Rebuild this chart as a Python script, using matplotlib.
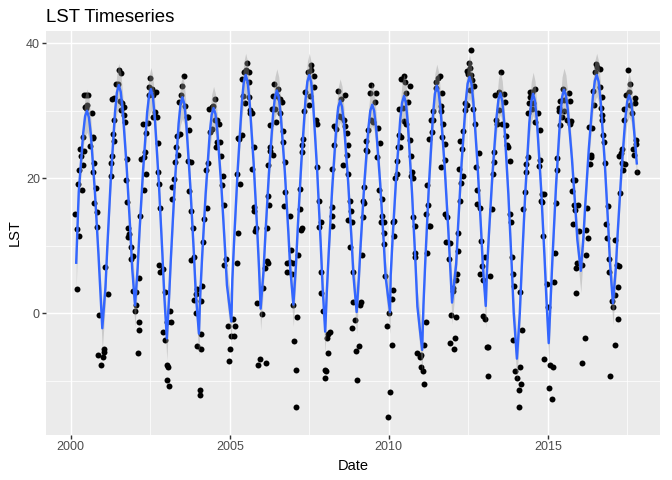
import numpy as np
import matplotlib
matplotlib.use("Agg")
import matplotlib.pyplot as plt

# observations as (decimal year, LST), grouped by season
obs_2000 = [(2000.18,12.5),(2000.14,14.7),(2000.35,18.2),(2000.24,19.1),(2000.27,21.2),(2000.38,21.9),(2000.31,23.3),
            (2000.41,24.0),(2000.29,24.3),(2000.37,26.1),(2000.47,30.4),(2000.45,30.6),(2000.50,30.9),(2000.42,32.4),
            (2000.48,32.4),(2000.53,32.4),(2000.66,29.6),(2000.60,24.8),(2000.71,25.9),(2000.69,26.1),(2000.74,22.2),
            (2000.71,20.9),(2000.79,18.5),(2000.74,16.4),(2000.83,15.0),(2000.81,12.8),(2000.25,11.4),(2000.19,3.6),
            (2000.90,-0.3),(2001.09,6.8),(2001.18,2.8),(2000.87,-6.1),(2001.03,-5.3),(2001.03,-5.7),(2001.00,-6.5),
            (2000.96,-7.7)]
obs_2001 = [(2001.31,31.7),(2001.36,31.9),(2001.37,28.7),(2001.34,26.5),(2001.36,25.5),(2001.28,23.3),(2001.25,22.3),
            (2001.25,20.4),(2001.52,36.0),(2001.59,35.6),(2001.49,34.0),(2001.43,33.9),(2001.56,31.5),(2001.62,31.2),
            (2001.67,30.5),(2001.58,30.1),(2001.66,29.3),(2001.71,28.3),(2001.76,22.8),(2001.73,19.7),(2001.78,16.5),
            (2001.81,12.7),(2001.84,11.7),(2001.80,11.3),(2001.88,9.8),(2001.95,8.5),(2001.89,8.0),(2002.13,5.3),
            (2001.97,3.3),(2002.04,3.1),(2002.06,1.3),(2002.02,0.3),(2002.16,-1.3),(2002.16,-2.5),(2002.10,-5.8)]
obs_2002 = [(2002.19,14.4),(2002.22,22.8),(2002.29,23.2),(2002.34,23.9),(2002.36,20.7),(2002.29,18.2),(2002.38,26.7),
            (2002.27,28.1),(2002.42,28.2),(2002.49,34.8),(2002.46,33.5),(2002.56,33.2),(2002.45,32.4),(2002.67,32.7),
            (2002.60,32.3),(2002.64,29.8),(2002.60,29.0),(2002.71,29.0),(2002.73,25.2),(2002.73,21.0),(2002.76,19.1),
            (2002.79,15.6),(2002.77,7.1),(2002.89,6.5),(2002.82,6.2),(2002.96,3.1),(2003.13,0.3),(2003.01,-1.3),
            (2003.14,-1.3),(2002.90,-2.8),(2002.95,-3.9),(2003.01,-7.6),(2003.07,-7.9),(2003.04,-9.9),(2003.10,-10.8)]
obs_2003 = [(2003.19,16.9),(2003.19,18.7),(2003.26,19.9),(2003.29,22.4),(2003.38,23.4),(2003.32,24.7),(2003.35,26.2),
            (2003.42,26.5),(2003.41,31.3),(2003.46,32.3),(2003.49,33.6),(2003.57,35.1),(2003.60,30.7),(2003.64,29.0),
            (2003.68,29.0),(2003.71,27.1),(2003.69,22.5),(2003.77,22.4),(2003.72,18.1),(2003.79,15.1),(2003.85,12.7),
            (2004.17,10.5),(2003.86,8.3),(2003.78,7.9),(2004.14,4.0),(2003.98,3.6),(2003.94,2.8),(2003.89,2.0),
            (2004.11,1.9),(2003.95,0.1),(2004.11,-3.1),(2003.98,-4.9),(2004.08,-5.3),(2004.05,-11.4),(2004.05,-12.1)]
obs_2004 = [(2004.18,14.0),(2004.27,15.6),(2004.26,21.2),(2004.31,22.2),(2004.34,30.2),(2004.39,26.9),(2004.43,27.3),
            (2004.44,30.5),(2004.48,30.7),(2004.55,31.7),(2004.61,28.7),(2004.65,28.1),(2004.59,25.4),(2004.68,25.4),
            (2004.57,24.7),(2004.71,23.3),(2004.78,20.3),(2004.74,19.0),(2004.81,16.0),(2004.52,28.6),(2005.26,11.9),
            (2005.22,7.4),(2004.87,8.1),(2004.82,7.1),(2005.09,-0.9),(2004.93,-1.9),(2005.16,-1.9),(2005.05,-3.3),
            (2005.12,-3.4),(2005.02,-5.2),(2004.99,-7.0)]
obs_2005 = [(2005.22,20.7),(2005.32,19.1),(2005.26,25.9),(2005.30,25.8),(2005.37,26.4),(2005.39,34.7),(2005.43,32.2),
            (2005.48,31.2),(2005.53,37.0),(2005.50,36.1),(2005.45,35.8),(2005.59,35.7),(2005.64,29.6),(2005.61,34.2),
            (2005.60,32.1),(2005.65,30.1),(2005.69,29.6),(2005.75,24.6),(2005.70,21.3),(2005.76,15.8),(2005.77,15.1),
            (2005.83,12.7),(2005.78,12.2),(2006.17,7.7),(2006.20,7.4),(2006.11,6.7),(2006.03,3.8),(2005.85,1.5),
            (2006.00,-0.1),(2005.95,-6.7),(2005.89,-7.7),(2006.14,-7.3)]
obs_2006 = [(2006.20,17.4),(2006.23,16.1),(2006.17,12.7),(2006.21,22.0),(2006.37,23.4),(2006.25,24.7),(2006.28,24.1),
            (2006.27,27.9),(2006.34,30.2),(2006.43,30.2),(2006.45,28.3),(2006.39,34.0),(2006.51,33.2),(2006.37,32.2),
            (2006.49,32.2),(2006.59,31.7),(2006.64,31.3),(2006.58,29.6),(2006.67,27.0),(2006.68,25.3),(2006.75,22.4),
            (2006.73,17.9),(2006.69,15.9),(2006.89,14.4),(2007.25,12.4),(2006.93,9.4),(2007.14,8.7),(2006.80,7.4),
            (2006.88,7.6),(2006.99,7.4),(2006.80,6.1),(2006.95,5.9),(2006.99,1.3),(2007.11,-0.6),(2007.02,-4.1),
            (2007.08,-8.4),(2007.08,-13.8)]
obs_2007 = [(2007.21,18.4),(2007.21,15.4),(2007.26,12.6),(2007.30,25.8),(2007.27,24.9),(2007.27,23.9),(2007.33,29.9),
            (2007.37,32.7),(2007.45,35.8),(2007.56,36.8),(2007.54,36.1),(2007.65,35.1),(2007.65,33.5),(2007.53,32.2),
            (2007.49,30.9),(2007.70,28.7),(2007.73,28.1),(2007.75,21.6),(2007.80,16.6),(2007.86,13.6),(2007.82,12.8),
            (2008.22,13.0),(2007.87,6.1),(2007.87,3.0),(2007.93,0.4),(2008.14,-2.8),(2008.10,-3.1),(2008.06,-3.6),
            (2008.09,-5.9),(2007.99,-8.4),(2008.02,-8.6),(2007.99,-9.5)]
obs_2008 = [(2008.21,21.4),(2008.27,24.9),(2008.35,27.3),(2008.28,27.7),(2008.56,21.9),(2008.41,32.9),(2008.49,31.7),
            (2008.63,32.4),(2008.45,29.2),(2008.51,29.0),(2008.59,28.7),(2008.61,27.8),(2008.69,26.7),(2008.73,24.9),
            (2008.68,23.4),(2008.73,20.7),(2008.77,16.7),(2008.82,15.1),(2008.72,13.8),(2008.85,13.5),(2008.22,14.4),
            (2008.21,15.7),(2008.77,9.9),(2009.17,8.6),(2008.87,6.2),(2009.14,1.7),(2009.09,1.3),(2008.89,1.7),
            (2008.94,-1.0),(2008.85,-2.1),(2009.07,-4.9),(2008.97,-5.6),(2009.01,-9.9)]
obs_2009 = [(2009.22,18.7),(2009.23,16.3),(2009.18,16.7),(2009.19,14.3),(2009.27,25.5),(2009.34,27.2),(2009.29,24.2),
            (2009.33,24.0),(2009.45,33.8),(2009.42,32.6),(2009.60,32.6),(2009.57,31.3),(2009.43,28.6),(2009.50,28.4),
            (2009.67,27.4),(2009.71,25.2),(2009.62,23.2),(2009.68,18.2),(2009.79,16.9),(2009.79,14.4),(2009.84,13.5),
            (2009.75,13.5),(2009.85,11.9),(2009.84,10.2),(2010.18,11.4),(2010.15,13.7),(2009.88,5.6),(2010.13,3.4),
            (2010.10,2.1),(2010.00,0.0),(2009.93,-1.9),(2010.10,-4.7),(2010.04,-11.6),(2009.98,-15.4)]
obs_2010 = [(2010.14,13.6),(2010.19,20.1),(2010.26,20.7),(2010.26,22.5),(2010.29,24.6),(2010.34,24.7),(2010.32,26.4),
            (2010.39,26.1),(2010.32,30.2),(2010.44,30.4),(2010.47,28.5),(2010.54,28.0),(2010.38,34.7),(2010.47,35.2),
            (2010.52,34.2),(2010.66,33.7),(2010.54,32.6),(2010.61,31.3),(2010.66,25.7),(2010.70,23.3),(2010.72,21.0),
            (2010.70,20.3),(2010.77,20.1),(2010.76,14.2),(2010.84,12.9),(2010.83,8.9),(2010.81,8.4),(2011.20,8.9),
            (2011.27,13.0),(2011.18,-1.2),(2011.12,-4.7),(2010.90,-5.8),(2011.02,-6.2),(2010.98,-6.5),(2011.01,-8.0),
            (2011.08,-8.6),(2011.11,-10.4)]
obs_2011 = [(2011.21,19.0),(2011.24,16.1),(2011.17,14.7),(2011.29,13.0),(2011.27,25.8),(2011.36,26.8),(2011.34,28.6),
            (2011.40,28.6),(2011.40,30.0),(2011.47,33.4),(2011.49,34.2),(2011.54,34.8),(2011.63,30.7),(2011.64,30.0),
            (2011.66,26.1),(2011.72,28.0),(2011.65,21.7),(2011.76,25.0),(2011.76,14.7),(2011.83,14.2),(2011.62,35.1),
            (2011.66,32.6),(2011.77,22.7),(2012.17,11.9),(2011.81,10.5),(2011.93,10.4),(2012.17,9.2),(2011.89,8.0),
            (2012.14,5.9),(2012.11,5.0),(2012.03,3.7),(2012.02,3.3),(2011.95,-0.3),(2012.11,-0.6),(2012.08,-3.6),
            (2011.92,-4.4),(2012.04,-5.2)]
obs_2012 = [(2012.23,16.6),(2012.27,19.3),(2012.34,20.3),(2012.20,21.3),(2012.30,24.3),(2012.23,25.5),(2012.34,27.0),
            (2012.39,30.1),(2012.41,31.2),(2012.46,30.8),(2012.58,39.0),(2012.52,37.0),(2012.54,36.3),(2012.45,35.9),
            (2012.50,35.4),(2012.59,35.3),(2012.62,34.6),(2012.67,33.6),(2012.54,33.0),(2012.65,30.2),(2012.70,28.1),
            (2012.84,23.7),(2012.73,21.6),(2012.79,18.2),(2012.76,16.2),(2012.86,15.6),(2012.89,10.7),(2013.02,8.3),
            (2012.92,7.0),(2012.87,5.9),(2013.18,5.6),(2012.96,4.9),(2012.96,-0.4),(2013.03,-0.9),(2013.08,-5.0),
            (2013.11,-5.0),(2013.11,-9.3)]
obs_2013 = [(2013.25,15.4),(2013.28,20.6),(2013.30,22.4),(2013.32,23.9),(2013.38,28.6),(2013.41,28.0),(2013.47,30.1),
            (2013.35,32.4),(2013.48,32.8),(2013.63,32.5),(2013.67,31.3),(2013.57,28.0),(2013.69,27.9),(2013.68,26.3),
            (2013.71,24.9),(2013.75,24.7),(2013.80,22.5),(2013.52,35.7),(2013.81,14.7),(2013.85,13.5),(2013.87,8.3),
            (2013.90,5.9),(2013.95,4.1),(2014.14,3.1),(2014.19,-2.5),(2013.90,-4.0),(2014.12,-8.0),(2013.96,-8.6),
            (2014.03,-9.5),(2014.15,-10.4),(2014.09,-11.3),(2014.09,-13.9)]
obs_2014 = [(2014.23,15.4),(2014.27,17.9),(2014.31,20.9),(2014.33,22.1),(2014.38,23.2),(2014.37,29.6),(2014.43,32.0),
            (2014.40,31.1),(2014.45,32.8),(2014.51,32.8),(2014.59,33.2),(2014.54,31.1),(2014.49,30.3),(2014.70,29.6),
            (2014.61,28.3),(2014.76,27.1),(2014.76,22.7),(2014.72,21.8),(2014.82,17.7),(2014.87,17.7),(2014.78,16.7),
            (2014.82,16.5),(2014.84,11.4),(2015.22,9.0),(2015.19,4.7),(2014.98,4.4),(2015.01,1.0),(2014.87,-6.8),
            (2015.06,-7.6),(2015.16,-8.0),(2015.03,-11.1),(2015.13,-12.6)]
obs_2015 = [(2015.25,16.4),(2015.28,21.2),(2015.30,23.0),(2015.38,27.9),(2015.45,29.0),(2015.34,30.4),(2015.34,30.0),
            (2015.50,30.0),(2015.38,31.4),(2015.51,31.6),(2015.69,31.5),(2015.66,32.6),(2015.48,33.2),(2015.61,28.7),
            (2015.74,28.5),(2015.71,28.1),(2015.79,19.8),(2015.87,19.7),(2015.75,18.1),(2015.81,16.0),(2015.94,16.0),
            (2015.85,15.3),(2015.78,13.3),(2015.97,12.2),(2016.19,12.3),(2016.27,11.1),(2016.21,8.7),(2015.93,7.4),
            (2016.09,7.1),(2015.90,6.7),(2015.88,3.0),(2016.16,-3.7),(2016.07,-7.3),(2016.22,15.6)]
obs_2016 = [(2016.32,22.1),(2016.35,23.2),(2016.35,23.5),(2016.29,27.6),(2016.40,27.5),(2016.44,30.9),(2016.42,32.9),
            (2016.53,36.9),(2016.55,36.4),(2016.64,36.2),(2016.50,35.7),(2016.65,33.5),(2016.71,32.1),(2016.67,30.4),
            (2016.71,29.4),(2016.71,28.7),(2016.73,26.4),(2016.76,25.3),(2016.79,22.3),(2016.90,15.9),(2016.84,13.3),
            (2017.13,10.8),(2016.86,11.1),(2016.92,8.1),(2017.18,7.1),(2017.24,7.0),(2016.92,6.2),(2017.21,3.9),
            (2017.11,2.7),(2017.01,1.8),(2017.05,0.9),(2017.20,-0.9),(2017.11,-4.7),(2016.95,-9.3)]
obs_2017 = [(2017.27,17.8),(2017.37,21.2),(2017.32,22.2),(2017.43,22.1),(2017.25,23.3),(2017.29,23.7),(2017.33,24.4),
            (2017.39,28.6),(2017.41,30.2),(2017.52,36.1),(2017.58,33.9),(2017.45,32.4),(2017.55,32.8),(2017.74,31.9),
            (2017.73,31.1),(2017.58,30.9),(2017.64,29.6),(2017.78,25.7),(2017.78,25.0),(2017.67,24.4),(2017.70,23.4),
            (2017.80,21.0)]

# fitted curve
fit_dates = [2000.17,2000.25,2000.39,2000.45,2000.51,
             2000.57,2000.63,2000.76,2000.87,2000.93,2000.99,2001.09,2001.15,2001.26,2001.39,2001.45,2001.51,
             2001.57,2001.63,2001.76,2001.87,2001.93,2002.02,2002.10,2002.16,2002.27,2002.40,2002.46,2002.52,
             2002.58,2002.64,2002.77,2002.88,2002.94,2003.02,2003.09,2003.15,2003.26,2003.39,2003.45,2003.51,
             2003.57,2003.63,2003.76,2003.87,2003.93,2004.03,2004.07,2004.13,2004.24,2004.37,2004.43,2004.49,
             2004.55,2004.61,2004.74,2004.85,2004.91,2005.05,2005.08,2005.14,2005.25,2005.38,2005.44,2005.50,
             2005.56,2005.62,2005.75,2005.86,2005.92,2005.97,2006.06,2006.12,2006.23,2006.36,2006.42,2006.48,
             2006.54,2006.60,2006.73,2006.84,2006.90,2007.00,2007.08,2007.14,2007.25,2007.38,2007.44,2007.50,
             2007.56,2007.62,2007.75,2007.86,2007.92,2008.00,2008.05,2008.11,2008.22,2008.35,2008.41,2008.47,
             2008.53,2008.59,2008.72,2008.83,2008.89,2008.99,2009.06,2009.12,2009.23,2009.36,2009.42,2009.48,
             2009.54,2009.60,2009.73,2009.84,2009.90,2010.04,2010.06,2010.12,2010.23,2010.36,2010.42,2010.48,
             2010.54,2010.60,2010.73,2010.84,2010.90,2011.05,2011.09,2011.15,2011.26,2011.39,2011.45,2011.51,
             2011.57,2011.63,2011.76,2011.87,2011.93,2011.99,2012.12,2012.18,2012.29,2012.42,2012.48,2012.54,
             2012.60,2012.66,2012.79,2012.90,2012.96,2013.05,2013.09,2013.15,2013.26,2013.39,2013.45,2013.51,
             2013.57,2013.63,2013.76,2013.87,2013.93,2014.03,2014.12,2014.18,2014.29,2014.42,2014.48,2014.54,
             2014.60,2014.66,2014.79,2014.90,2014.96,2015.03,2015.09,2015.15,2015.26,2015.39,2015.45,2015.51,
             2015.57,2015.63,2015.76,2015.87,2015.93,2016.04,2016.12,2016.18,2016.29,2016.42,2016.48,2016.54,
             2016.60,2016.66,2016.79,2016.90,2016.96,2017.05,2017.14,2017.20,2017.31,2017.44,2017.50,2017.56,
             2017.62,2017.68,2017.80]
fit_lst = [7.5,18.0,26.7,29.2,30.0,
           29.0,26.5,17.8,8.7,3.3,-2.2,3.9,10.0,20.1,29.8,32.7,33.8,
           32.8,30.2,21.4,12.3,6.7,1.2,6.6,12.1,21.0,29.7,32.2,33.2,
           32.1,29.1,19.2,8.8,2.6,-3.7,2.4,8.4,18.4,28.1,30.9,32.0,
           31.0,28.2,18.7,8.9,2.9,-3.0,2.7,8.4,17.7,26.7,29.4,30.4,
           29.5,26.9,18.4,9.5,4.2,-1.2,5.0,11.2,21.4,31.3,34.2,35.3,
           34.3,31.5,22.2,12.5,6.6,0.7,6.2,11.7,20.7,29.4,32.0,33.0,
           32.0,29.5,21.0,12.1,6.7,1.3,7.1,12.9,22.4,31.6,34.3,35.3,
           34.2,31.1,20.9,10.2,3.8,-2.7,3.1,8.9,18.5,27.7,30.5,31.5,
           30.6,28.1,19.6,10.8,5.5,0.2,5.4,10.6,19.2,27.5,30.0,30.9,
           30.0,27.5,19.2,10.6,5.4,0.2,5.6,11.1,20.0,28.7,31.2,32.2,
           31.1,28.1,17.9,7.4,1.0,-5.4,1.2,7.9,18.8,29.4,32.5,33.7,
           32.7,30.2,21.5,12.5,7.1,1.6,7.3,13.0,22.3,31.3,34.0,35.0,
           34.0,31.3,22.1,12.6,6.9,1.1,6.5,11.8,20.6,29.1,31.7,32.6,
           31.4,28.3,17.7,6.7,0.0,-6.7,0.0,6.6,17.6,28.2,31.3,32.5,
           31.4,28.4,18.5,8.1,1.9,-4.4,2.0,8.4,18.9,29.0,32.0,33.1,
           32.3,30.2,22.9,15.4,10.9,6.3,11.2,16.2,24.3,32.1,34.4,35.3,
           34.3,31.6,22.5,13.0,7.2,1.5,6.7,12.0,20.6,28.9,31.4,32.3,
           31.4,29.0,22.2]

# half width of the grey band along one cycle of the fit
band_start = [4.0,2.0,2.0,3.0,3.2]
band_cycle = [3.0,2.4,1.8,1.8,2.4,3.2,2.4,1.8,1.8,2.4,3.0,3.2]

x_ticks = [2000,2005,2010,2015]
y_ticks = [0,20,40]

all_obs = (obs_2000 + obs_2001 + obs_2002 + obs_2003 + obs_2004 + obs_2005 + obs_2006 + obs_2007 + obs_2008
           + obs_2009 + obs_2010 + obs_2011 + obs_2012 + obs_2013 + obs_2014 + obs_2015 + obs_2016 + obs_2017)
dates, lst = np.array(all_obs).T
fit_x = np.array(fit_dates)
fit_y = np.array(fit_lst)
band = np.concatenate([band_start, np.resize(band_cycle, len(fit_x) - len(band_start))])

plt.rcParams['font.family'] = ['Liberation Sans', 'DejaVu Sans']

fig = plt.figure(figsize=(7, 5), dpi=96)
ax = fig.add_axes([46/672, 1 - 435/480, 614/672, 404/480], facecolor='#EBEBEB')

ax.scatter(dates, lst, s=20, c='black', linewidths=0, zorder=3)
ax.fill_between(fit_x, fit_y - band, fit_y + band, color='#999999', alpha=0.4, linewidth=0, zorder=4)
ax.plot(fit_x, fit_y, color='#3366FF', lw=1.8, zorder=5)

ax.set_xlim(1999.22, 2018.53)
ax.set_ylim(-18.0, 41.8)
ax.set_xticks(x_ticks)
ax.set_yticks(y_ticks)
ax.set_xticks([2002.5, 2007.5, 2012.5, 2017.5], minor=True)
ax.set_yticks([-10, 10, 30], minor=True)

ax.grid(which='major', color='white', lw=1.07, zorder=1)
ax.grid(which='minor', color='white', lw=0.53, zorder=1)
ax.set_axisbelow(True)
ax.tick_params(which='major', length=2.75, width=1.07, color='#333333', labelcolor='#4D4D4D',
               labelsize=9.4, pad=1.8)
ax.tick_params(which='minor', length=0)
for spine in ax.spines.values():
    spine.set_visible(False)

ax.set_xlabel('Date', fontsize=11, labelpad=4.5)
ax.set_ylabel('LST', fontsize=11, labelpad=3)
ax.set_title('LST Timeseries', loc='left', fontsize=14, pad=7)

fig.savefig('out.png', dpi=96)
